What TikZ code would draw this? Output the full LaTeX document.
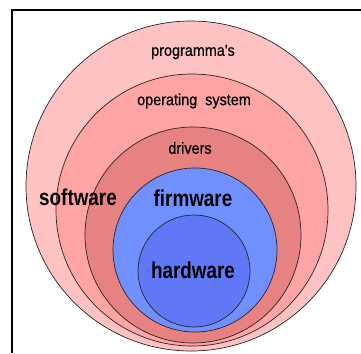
\documentclass[tikz,border=0pt]{standalone}
\usepackage{fontspec}
\newfontfamily\labelfont[FakeStretch=0.9,FakeBold=0.6]{Liberation Sans}
\newfontfamily\headfont[FakeStretch=0.82]{Liberation Sans Bold}

\definecolor{progpink}{HTML}{FFC2C2}
\definecolor{ospink}{HTML}{FFA4A4}
\definecolor{drvred}{HTML}{E68282}
\definecolor{fwblue}{HTML}{7090FF}
\definecolor{hwblue}{HTML}{6078F6}

\begin{document}
\begin{tikzpicture}[x=1pt,y=-1pt]
    \tikzstyle{ring}=[circle,draw=black!85,line width=0.7pt,inner sep=0pt]
    \tikzstyle{small}=[inner sep=0pt,font=\labelfont\fontsize{16}{17}\selectfont]
    \tikzstyle{big}=[inner sep=0pt,font=\headfont\fontsize{23}{24}\selectfont]
    \useasboundingbox (0,0) rectangle (361,353);

    % frame (only the left and top sides are in view)
    \draw[line width=2pt] (12,353) -- (12,10.75);
    \draw[line width=1.5pt] (11,10) -- (361,10);

    % layers, outside in
    \foreach \name/\x/\y/\d/\col in {prog/191/186/330/progpink, os/192/210/272/ospink,
                                      drv/193/235/216/drvred, fw/195/250/164/fwblue,
                                      hw/194/271/112/hwblue}
        \node[ring,fill=\col,minimum size=\d pt] (C-\name) at (\x,\y) {};

    \foreach \name/\x/\y/\txt in {prog/193/52/programma's, os/194/101/operating\ \ system,
                                  drv/190/148/drivers}
        \node[small] (L-\name) at (\x,\y) {\txt};

    \foreach \name/\x/\y/\txt in {sw/78/197/software, fw/193/198/firmware, hw/193/270/hardware}
        \node[big] (L-\name) at (\x,\y) {\txt};
\end{tikzpicture}
\end{document}
